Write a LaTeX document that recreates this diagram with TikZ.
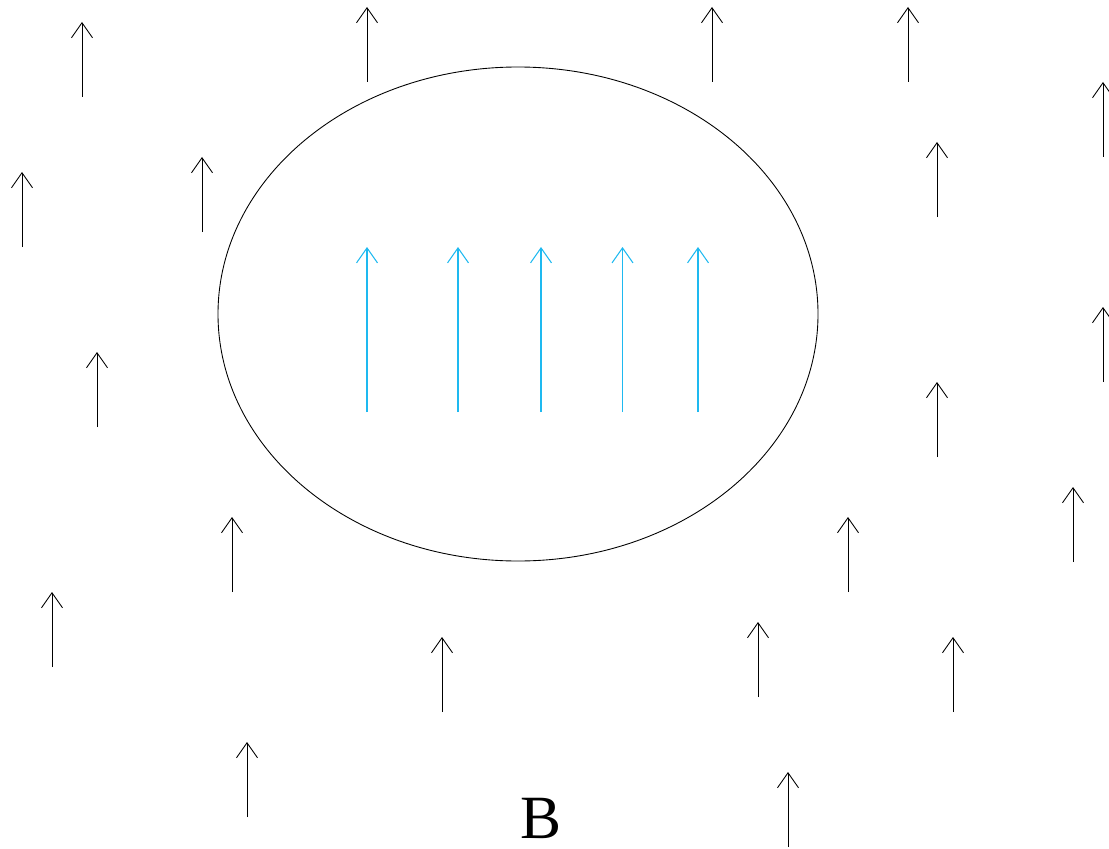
\documentclass[tikz,border=0pt]{standalone}
\usepackage{fontspec}
\setmainfont{Liberation Serif}
\usepackage{tikz}
\usetikzlibrary{arrows.meta}
\usepackage{xcolor}
\definecolor{fieldblue}{RGB}{30,185,240}

\begin{document}
\begin{tikzpicture}[>={Straight Barb[length=3mm,width=4.2mm]},line width=0.5pt]
\useasboundingbox (0,0) rectangle (22.18,16.96);
\draw (10.36,10.68) ellipse [x radius=6cm,y radius=4.94cm];
% outer field
\foreach \x/\y in {1.64/15.02,7.34/15.32,14.24/15.32,18.16/15.32,22.06/13.82,0.44/12.02,4.04/12.32,18.74/12.62,22.06/9.32,1.94/8.42,18.74/7.82,21.46/5.72,4.64/5.12,16.96/5.12,1.04/3.62,8.84/2.72,15.16/3.02,19.06/2.72,4.94/0.62,15.76/0.02}
  \draw[->] (\x,\y) -- ++(0,1.5);
% field inside
\foreach \x in {7.34,9.16,10.82,12.45,13.96}
  \draw[->,fieldblue,line width=0.6pt] (\x,8.72) -- ++(0,3.3);
\node[font=\fontsize{35}{36}\selectfont,inner sep=0pt] (lbl) at (10.82,0.6) {B};
\end{tikzpicture}
\end{document}
